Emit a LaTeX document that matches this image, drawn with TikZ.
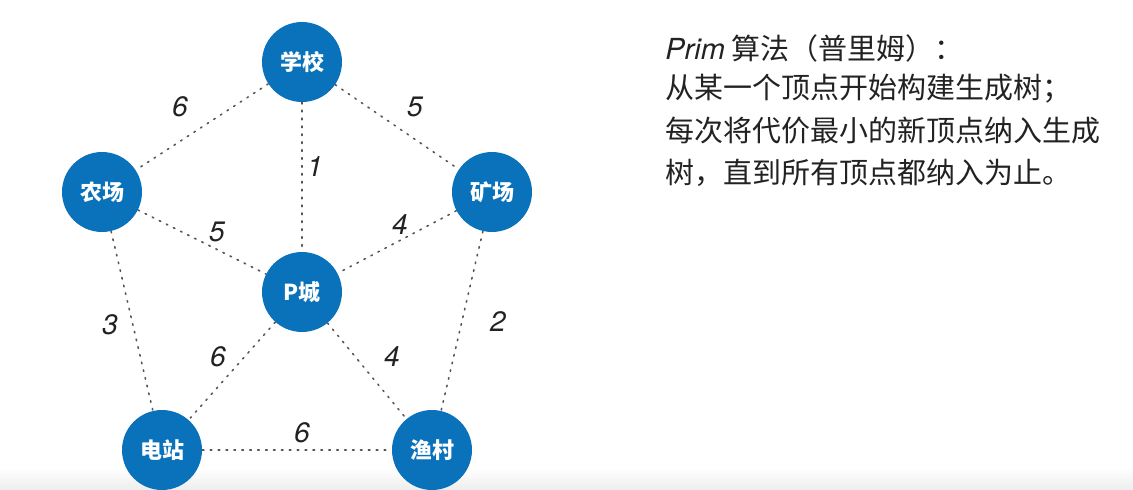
\documentclass[tikz,border=0pt]{standalone}
\usepackage{fontspec}
\usepackage{xcolor}
\usepackage{tikz}
\usetikzlibrary{positioning}
\setmainfont{TeX Gyre Heros}
\newfontfamily\cjk{Noto Sans CJK SC}
\definecolor{vtxblue}{HTML}{0A72BA}
\definecolor{edgegray}{HTML}{555555}
\definecolor{txtdark}{HTML}{222222}
\tikzset{
  vertex/.style={circle, fill=vtxblue, text=white, minimum size=1.6cm, inner sep=0pt, font=\cjk\bfseries\fontsize{12.5}{14}\selectfont},
  link/.style={draw=edgegray, line width=0.9pt, dash pattern=on 0.9pt off 3.6pt, line cap=round},
  wt/.style={font=\itshape\fontsize{16}{18}\selectfont, text=txtdark, inner sep=0pt},
  note/.style={anchor=west, font=\cjk\fontsize{16.5}{20}\selectfont, text=txtdark, inner sep=0pt}
}
\begin{document}
\begin{tikzpicture}[x=0.02cm, y=-0.02cm]
  \useasboundingbox[fill=white] (0,0) rectangle (1133,490);
  \shade[top color=white, bottom color=black!7] (0,468) rectangle (1133,490);
  % vertices
  \node[vertex] (school) at (302,62) {学校};
  \node[vertex] (farm) at (102,192) {农场};
  \node[vertex] (mine) at (492,192) {矿场};
  \node[vertex] (city) at (302,292) {P城};
  \node[vertex] (plant) at (162,450) {电站};
  \node[vertex] (village) at (432,450) {渔村};
  % edges with weights
  \draw[link] (school) -- node[wt, shift={(-22,-20)}] {6} (farm);
  \draw[link] (school) -- node[wt, shift={(18,-20)}] {5} (mine);
  \draw[link] (school) -- node[wt, shift={(13,-10)}] {1} (city);
  \draw[link] (farm) -- node[wt, shift={(15,-10)}] {5} (city);
  \draw[link] (mine) -- node[wt, shift={(3,-17)}] {4} (city);
  \draw[link] (farm) -- node[wt, shift={(-22,4)}] {3} (plant);
  \draw[link] (mine) -- node[wt, shift={(36,1)}] {2} (village);
  \draw[link] (city) -- node[wt, shift={(-14,-14)}] {6} (plant);
  \draw[link] (city) -- node[wt, shift={(25,-14)}] {4} (village);
  \draw[link] (plant) -- node[wt, shift={(5,-17)}] {6} (village);
  % description
  \node[note] (title) at (665,48) {{\fontspec{TeX Gyre Heros}\itshape Prim} 算法（普里姆）：};
  \node[note] (line1) at (665,89) {从某一个顶点开始构建生成树；};
  \node[note] (line2) at (665,131) {每次将代价最小的新顶点纳入生成};
  \node[note] (line3) at (665,173) {树，直到所有顶点都纳入为止。};
\end{tikzpicture}
\end{document}
